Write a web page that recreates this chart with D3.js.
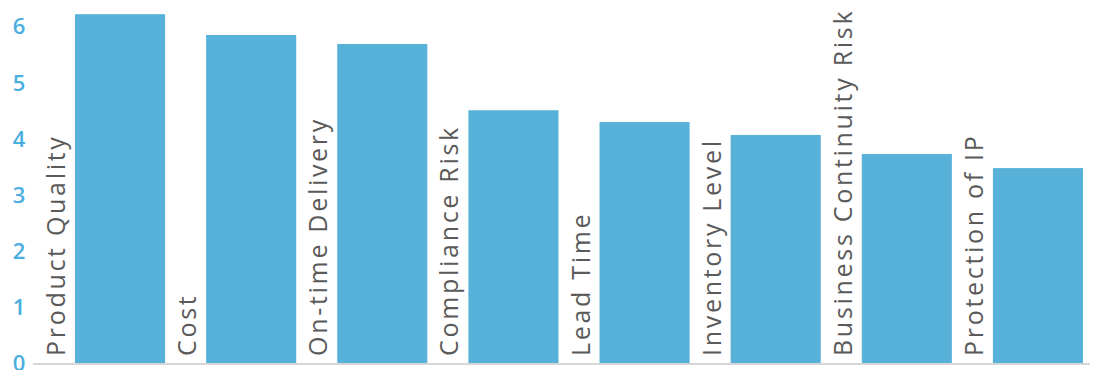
<!DOCTYPE html>
<html><head><meta charset="utf-8">
<script src="https://cdn.jsdelivr.net/npm/d3@7"></script>
<style>body{margin:0;background:#fff}svg{display:block}</style>
</head><body>
<script>
const categories = ["Product Quality","Cost","On-time Delivery","Compliance Risk","Lead Time","Inventory Level","Business Continuity Risk","Protection of IP"];
const values = [6.21, 5.84, 5.68, 4.50, 4.29, 4.06, 3.72, 3.47];
const yTicks = [0,1,2,3,4,5,6];

const W = 1096, H = 370;
const svg = d3.select("body").append("svg").attr("width", W).attr("height", H);

const x = d3.scaleBand().domain(categories).range([75, 1083]).paddingInner(0.313).paddingOuter(0);
const y = d3.scaleLinear().domain([0, 6]).range([363, 26]);

// baseline
svg.append("line").attr("x1", 33).attr("x2", 1090).attr("y1", y(0)+1).attr("y2", y(0)+1)
  .attr("stroke", "#c8c8c8").attr("stroke-width", 1.5);

// bars
svg.selectAll("rect.bar").data(categories).enter().append("rect")
  .attr("class","bar")
  .attr("x", d => x(d))
  .attr("width", x.bandwidth())
  .attr("y", (d,i) => y(values[i]))
  .attr("height", (d,i) => y(0) - y(values[i]))
  .attr("fill", "#57b1d9");

// category labels (rotated, left of each bar)
svg.selectAll("text.cat").data(categories).enter().append("text")
  .attr("class","cat")
  .attr("transform", d => `translate(${x(d) - 10},356) rotate(-90)`)
  .attr("font-family", "'Open Sans', sans-serif")
  .attr("font-size", 25)
  .attr("letter-spacing", "2.7px")
  .attr("fill", "#5a5a5a")
  .text(d => d);

// y axis
const yAxis = d3.axisLeft(y).tickValues(yTicks).tickSize(0).tickPadding(0).tickFormat(d3.format("d"));
const g = svg.append("g").attr("transform", "translate(26,0)").call(yAxis);
g.select(".domain").remove();
g.selectAll("text").attr("font-family", "'Open Sans', sans-serif").attr("font-size", 22)
  .attr("font-weight", 600)
  .attr("fill", "#4aaee0").attr("text-anchor", "middle").attr("dy", "0.36em").attr("x", -7);
</script>
</body></html>
